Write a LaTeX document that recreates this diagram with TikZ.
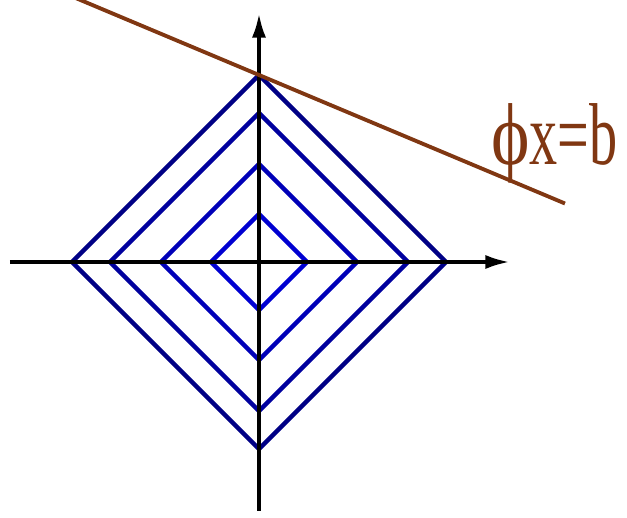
\documentclass[tikz,border=0pt]{standalone}
\usepackage{fontspec}
\setmainfont{Liberation Serif}
\usetikzlibrary{arrows.meta}
\definecolor{rustbrown}{RGB}{128,55,18}
\tikzset{
    axis_line/.style={
        draw=black, line width=2.2pt, -{Latex[length=14pt, width=8pt]}
    },
    level_line/.style={
        line width=2.6pt, line join=miter
    },
    constraint_line/.style={
        draw=rustbrown, line width=2.2pt
    },
    constraint_lbl/.style={
        text=rustbrown, font=\fontsize{50}{50}\selectfont, inner sep=0pt, xscale=0.64
    }
}
\begin{document}
\begin{tikzpicture}[x=0.02cm, y=0.02cm]
    \useasboundingbox (-259,-256) rectangle (368,262);
    \clip (-259,-256) rectangle (368,262);

    \coordinate (O) at (0,0);
    \coordinate (xl) at (-249,0);
    \coordinate (xr) at (251,0);
    \coordinate (yb) at (0,-249);
    \coordinate (yt) at (0,249);

    % level sets of |x|_1
    \foreach \r/\c in {187/blue!52!black, 149/blue!62!black, 98/blue!72!black, 48/blue!82!black}
        \draw[level_line, draw=\c] (\r,0) -- (0,\r) -- (-\r,0) -- (0,-\r) -- cycle;

    \draw[axis_line] (xl) -- (xr);
    \draw[axis_line] (yb) -- (yt);

    % the line phi x = b
    \coordinate (la) at (-185,264.7);
    \coordinate (lb) at (306,58.5);
    \draw[constraint_line] (la) -- (lb);
    \node[constraint_lbl, anchor=base west] (lbl) at (232,97) {\scalebox{1.3}[1]{ϕ}x=b};
\end{tikzpicture}
\end{document}
